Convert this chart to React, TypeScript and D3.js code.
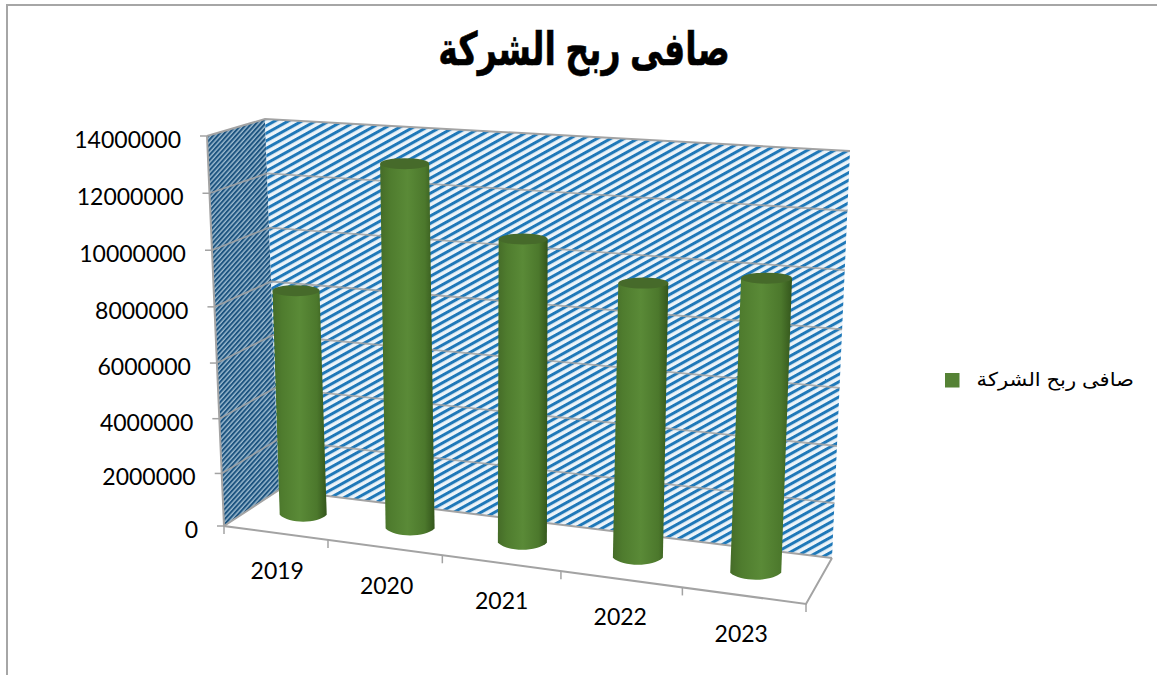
import React from "react";
import * as d3 from "d3";

const titleText = "صافى ربح الشركة";
const categories = ["2019", "2020", "2021", "2022", "2023"];
const netProfit = [8300000, 13100000, 10780000, 9600000, 10100000];
const valueTicks = [0, 2000000, 4000000, 6000000, 8000000, 10000000, 12000000, 14000000];

const W = 1157, H = 675;
type Pt = [number, number];
// projected corners of the 3D box
const FL: Pt = [224, 526], FR: Pt = [806, 604], BL: Pt = [279, 490], BR: Pt = [832, 558];
const TFL: Pt = [207, 136], TFR: Pt = [826, 178], TBL: Pt = [265, 119], TBR: Pt = [850, 151];

const lerp = (a: Pt, b: Pt, t: number): Pt => [a[0] + (b[0] - a[0]) * t, a[1] + (b[1] - a[1]) * t];
const vScale = d3.scalePow().exponent(1.03).domain([0, 14000000]).range([0, 1]);
const uScale = d3.scalePow().exponent(1.07).domain([0, 1]).range([0, 1]);
const band = d3.scaleBand<string>().domain(categories).range([0, 1]);
const barU = d3.scaleLinear().domain([0, 1]).range([0.008, 0.994]);

function project(u: number, depth: number, value: number): Pt {
  const uu = uScale(u);
  const bottom = lerp(lerp(FL, FR, uu), lerp(BL, BR, uu), depth);
  const top = lerp(lerp(TFL, TFR, uu), lerp(TBL, TBR, uu), depth);
  return lerp(bottom, top, vScale(value));
}
const poly = (pts: Pt[]) => pts.map((p) => p.join(",")).join(" ");
const BAR_RX = [23.5, 24.5, 24.5, 25, 25.5];
const GRID = "#a3a3a3";
const ARABIC = "'Liberation Sans','DejaVu Sans',sans-serif";

function cylinder(bx: number, by: number, tx: number, ty: number, rb: number, rt: number, ryb: number) {
  const path = d3.path();
  path.moveTo(tx - rt, ty);
  path.lineTo(bx - rb, by);
  path.bezierCurveTo(bx - rb * 0.6, by + ryb * 1.33, bx + rb * 0.6, by + ryb * 1.33, bx + rb, by);
  path.lineTo(tx + rt, ty);
  path.closePath();
  return path.toString();
}

export default function App() {
  return (
    <svg width={W} height={H} viewBox={`0 0 ${W} ${H}`} style={{ position: "absolute", left: 0, top: 0, background: "#fff" }}>
      <defs>
        <pattern id="backHatch" width={6.6} height={6.6} patternUnits="userSpaceOnUse" patternTransform="rotate(-29)">
          <rect width={6.6} height={6.6} fill="#edf4f9" />
          <rect width={6.6} height={3} fill="#1f78b8" />
        </pattern>
        <pattern id="sideHatch" width={3.4} height={3.4} patternUnits="userSpaceOnUse" patternTransform="rotate(-48)">
          <rect width={3.4} height={3.4} fill="#9dbbd0" />
          <rect width={3.4} height={2} fill="#1d5480" />
        </pattern>
        <linearGradient id="barFill" x1="0" x2="1" y1="0" y2="0">
          <stop offset="0" stopColor="#456c28" />
          <stop offset="0.18" stopColor="#4f7c2e" />
          <stop offset="0.5" stopColor="#5a8a37" />
          <stop offset="0.82" stopColor="#4c782c" />
          <stop offset="1" stopColor="#34561c" />
        </linearGradient>
      </defs>

      {/* chart frame */}
      <path d={`M7,${H} V5 H${W}`} fill="none" stroke="#a6a6a6" strokeWidth={2} />

      <text transform="translate(584,65) scale(0.81,1.12)" direction="rtl" textAnchor="middle" fontFamily={ARABIC} fontWeight="bold" fontSize={41} fill="#000" stroke="#000" strokeWidth={0.5}>{titleText}</text>

      {/* walls */}
      <polygon points={poly([TFL, TBL, BL, FL])} fill="url(#sideHatch)" />
      <polygon points={poly([TBL, TBR, BR, BL])} fill="url(#backHatch)" />

      {/* gridlines */}
      {valueTicks.map((v) => {
        const a = project(0, 0, v), b = project(0, 1, v), c = project(1, 1, v);
        return <polyline key={v} points={poly([a, b, c])} fill="none" stroke={GRID} strokeWidth={v === 0 || v === 14000000 ? 2 : 1.8} opacity={v === 0 || v === 14000000 ? 1 : 0.85} />;
      })}
      <polyline points={poly([TFL, FL, FR, BR])} fill="none" stroke={GRID} strokeWidth={2} />

      {/* value axis */}
      {valueTicks.map((v) => {
        const a = project(0, 0, v);
        return (
          <g key={v}>
            <line x1={a[0] - 7} x2={a[0]} y1={a[1]} y2={a[1]} stroke={GRID} strokeWidth={1.5} />
            <text x={a[0] - 26} y={a[1] + 12} textAnchor="end" fontFamily="Lato" fontSize={23} fill="#000">{v}</text>
          </g>
        );
      })}

      {/* category axis */}
      {d3.range(categories.length + 1).map((i) => {
        const a = project(i / categories.length, 0, 0);
        return <line key={i} x1={a[0]} x2={a[0]} y1={a[1]} y2={a[1] + 8} stroke={GRID} strokeWidth={1.5} />;
      })}
      {categories.map((c) => {
        const u = band(c)! + band.bandwidth() / 2;
        const a = project(u, 0, 0);
        return <text key={c} x={a[0] + 4.5 - 8 * u} y={a[1] + 46} textAnchor="middle" fontFamily="Lato" fontSize={23} fill="#000">{c}</text>;
      })}

      {/* cylinders */}
      {categories.map((c, i) => {
        const u = barU(band(c)! + band.bandwidth() / 2);
        const b = project(u, 0.5, 0);
        const t = project(u, 0.5, netProfit[i]);
        const rx = BAR_RX[i];
        return (
          <g key={c}>
            <path d={cylinder(b[0], b[1], t[0], t[1], rx, rx, 7)} fill="url(#barFill)" />
            <ellipse cx={t[0]} cy={t[1]} rx={rx} ry={5.5} fill="#466a2a" />
          </g>
        );
      })}

      {/* legend */}
      <rect x={945} y={373} width={14.5} height={14.5} fill="#558235" />
      <text transform="translate(1134,386) scale(1.11,1)" textAnchor="start" direction="rtl" fontFamily={ARABIC} fontSize={19} fill="#000">{titleText}</text>
    </svg>
  );
}
